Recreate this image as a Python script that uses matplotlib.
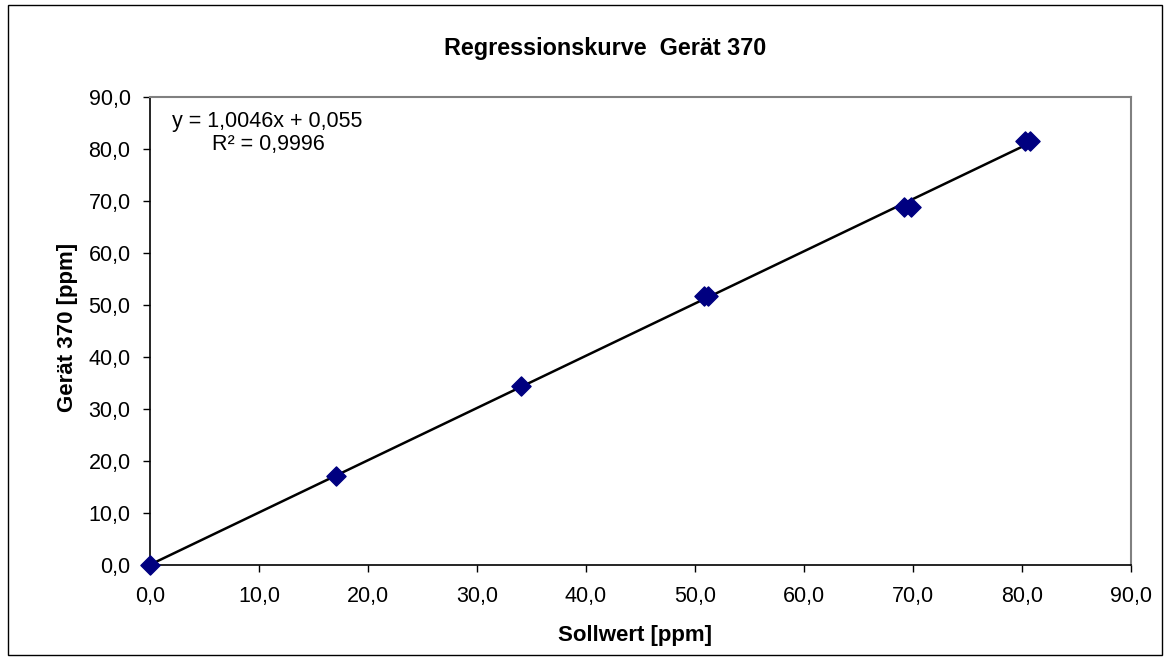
import numpy as np
import matplotlib
matplotlib.use("Agg")
import matplotlib.pyplot as plt
from matplotlib.patches import Rectangle
from matplotlib.ticker import FuncFormatter, MultipleLocator

plt.rcParams['font.family'] = ['Liberation Sans', 'DejaVu Sans']

# Messwerte
sollwert = [0.0, 17.1, 34.0, 50.8, 51.2, 69.2, 69.8, 80.3, 80.7]
geraet = [0.0, 17.2, 34.4, 51.7, 51.7, 68.8, 68.8, 81.5, 81.5]

slope = 1.0046
intercept = 0.055
r2_text = "R² = 0,9996"
eq_text = "y = 1,0046x + 0,055"

fig = plt.figure(figsize=(11.68, 6.61), dpi=100)
fig.patches.append(Rectangle((0.0068, 0.009), 0.988, 0.983, transform=fig.transFigure,
                             fill=False, edgecolor='black', linewidth=1.0))

ax = fig.add_axes([0.1284, 0.1452, 0.8399, 0.7081])

xfit = np.array([min(sollwert), max(sollwert)])
ax.plot(xfit, slope * xfit + intercept, color='black', linewidth=1.8, zorder=2)
ax.scatter(sollwert, geraet, marker='D', s=95, color='#000080', zorder=3, clip_on=False)

ax.set_xlim(0, 90)
ax.set_ylim(0, 90)
ax.xaxis.set_major_locator(MultipleLocator(10))
ax.yaxis.set_major_locator(MultipleLocator(10))
fmt = FuncFormatter(lambda v, p: f"{v:.1f}".replace('.', ','))
ax.xaxis.set_major_formatter(fmt)
ax.yaxis.set_major_formatter(fmt)
ax.tick_params(direction='out', length=5, width=1, labelsize=15.5, colors='black')
ax.tick_params(axis='x', pad=10)
ax.tick_params(axis='y', pad=9)

for side in ['top', 'right']:
    ax.spines[side].set_color('#808080')
    ax.spines[side].set_linewidth(1.5)
for side in ['left', 'bottom']:
    ax.spines[side].set_color('black')
    ax.spines[side].set_linewidth(1.2)

fig.text(0.518, 0.927, "Regressionskurve  Gerät 370", ha='center', va='center',
         fontsize=16.8, fontweight='bold')
fig.text(0.544, 1 - 635 / 661, "Sollwert [ppm]", ha='center', va='center',
         fontsize=16, fontweight='bold')
fig.text(0.0575, 0.5053, "Gerät 370 [ppm]", ha='center', va='center', rotation=90,
         fontsize=16, fontweight='bold')

ax.text(0.0224, 0.936, eq_text, transform=ax.transAxes, fontsize=15.5,
        va='baseline', ha='left')
ax.text(0.0632, 0.886, r2_text, transform=ax.transAxes, fontsize=15.5,
        va='baseline', ha='left')

fig.savefig("out.png", dpi=100)
